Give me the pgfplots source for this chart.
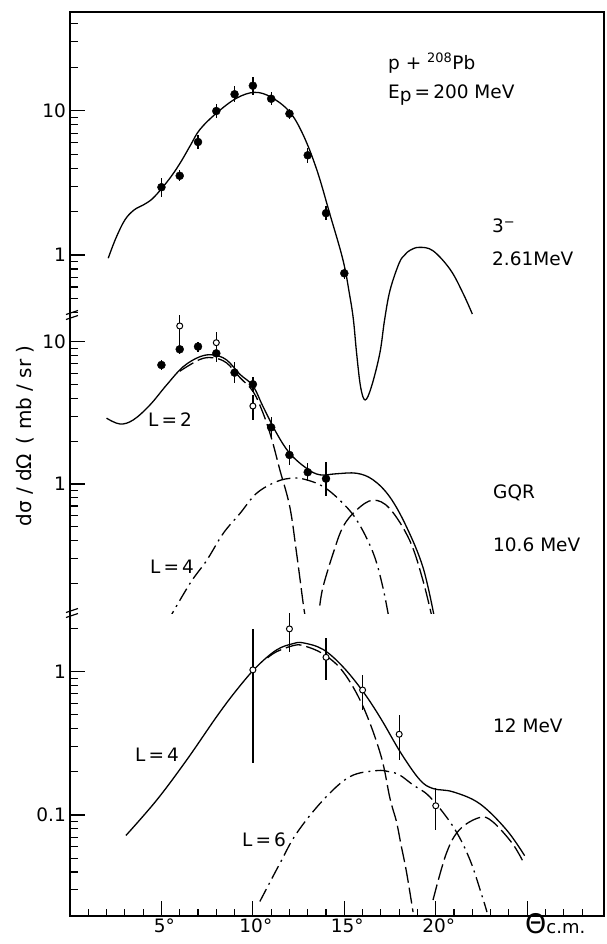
\documentclass[border=0pt]{standalone}
\usepackage{fontspec}
\setmainfont{DejaVu Sans}
\usepackage{pgfplots}
\pgfplotsset{compat=1.18}

\pgfplotsset{
  panel/.style={
    scale only axis, width=534pt,
    xmin=0, xmax=29.2,
    axis y line*=left,
    tick align=inside,
    major tick length=15pt, minor tick length=7.5pt,
    tick style={black, line width=1.1pt},
    axis line style={line width=1.3pt},
    yticklabel style={anchor=east, inner sep=0pt, xshift=-4pt, font=\fontsize{18.5}{22}\selectfont},
    xticklabel style={anchor=north, inner sep=0pt, yshift=-3pt, xshift=3pt, font=\fontsize{18.5}{22}\selectfont},
  },
  fit/.style={black, line width=1.3pt, smooth, tension=0.6, no markers},
  ldash/.style={fit, dash pattern=on 16pt off 5pt},
  ddot/.style={fit, dash pattern=on 14pt off 5pt on 2pt off 5pt},
  filled/.style={only marks, mark=*, mark size=4pt, black,
    error bars/.cd, y dir=both, y explicit,
    error bar style={line width=1.3pt}, error mark=none},
  open/.style={only marks, mark=*, mark size=3pt,
    mark options={fill=white, draw=black, line width=1pt}, black,
    error bars/.cd, y dir=both, y explicit,
    error bar style={line width=1.3pt}, error mark=none},
}

\begin{document}
\fontsize{18.5}{22}\selectfont
\begin{tikzpicture}
\path[use as bounding box] (-70pt,12pt) rectangle (537pt,-932pt);

% 3- state, 2.61 MeV
\begin{axis}[ymode=log, panel, at={(0pt,0pt)}, anchor=north west, height=303pt,
  ymin=0.384, ymax=48.3, ytick={1,10}, yticklabels={1,10},
  minor ytick={0.4,0.5,0.6,0.7,0.8,0.9,2,3,4,5,6,7,8,9,20,30,40},
  axis x line=none, xtick=\empty, clip=false]
\addplot[fit] coordinates {
(2.09,0.95) (2.5,1.3) (3.0,1.75) (3.5,2.05) (4.0,2.22) (4.5,2.45)
(5.07,2.95) (5.6,3.6) (6.1,4.5) (6.6,5.8) (7.1,7.4) (8.0,9.6) (9.1,12.2)
(10.1,13.4) (11.0,12.4) (12.0,9.85) (12.75,6.8) (13.5,3.88) (14.2,1.94)
(14.93,0.92) (15.3,0.52) (15.5,0.354) (15.67,0.21) (15.89,0.122)
(16.14,0.099) (16.48,0.122) (16.94,0.208) (17.2,0.354) (17.5,0.57)
(18.0,0.88) (18.3,1.0) (18.6,1.08) (19.1,1.13) (19.85,1.07) (20.8,0.79)
(21.5,0.54) (22.0,0.39)};
\addplot[filled] coordinates {
(5,2.95) += (0,0.48) -= (0,0.41)
(6,3.54) += (0,0.33) -= (0,0.30)
(7,6.07) += (0,0.77) -= (0,0.68)
(8,9.95) += (0,1.26) -= (0,1.12)
(9,13.0) += (0,1.77) -= (0,1.56)
(10,14.9) += (0,2.3) -= (0,2.0)
(11,12.1) += (0,1.37) -= (0,1.23)
(12,9.53) += (0,0.79) -= (0,0.73)
(13,4.91) += (0,0.64) -= (0,0.57)
(14,1.95) += (0,0.22) -= (0,0.2)
(15,0.747) += (0,0.08) -= (0,0.07)};
\end{axis}

% GQR 10.6 MeV
\begin{axis}[ymode=log, panel, at={(0pt,-303pt)}, anchor=north west, height=298pt,
  ymin=0.124, ymax=15.4, ytick={1,10}, yticklabels={1,10},
  minor ytick={0.2,0.3,0.4,0.5,0.6,0.7,0.8,0.9,2,3,4,5,6,7,8,9},
  axis x line=none, xtick=\empty]
\addplot[fit] coordinates {
(2.0,2.9) (2.73,2.64) (3.46,2.82) (4.37,3.59) (5.28,4.96) (6.19,6.67)
(7.1,7.84) (7.83,8.07) (8.56,7.45) (9.29,5.9) (10.0,4.9) (10.56,3.49)
(11.3,2.27) (12.02,1.64) (12.93,1.29) (13.66,1.16) (14.57,1.18)
(15.67,1.19) (16.57,1.07) (17.49,0.81) (18.4,0.50) (19.3,0.26) (19.9,0.12)};
\addplot[ldash] coordinates {
(6.0,6.2) (7.1,7.5) (7.83,7.7) (8.56,7.1) (9.29,5.6) (10.02,4.45)
(10.56,3.14) (11.02,2.09) (11.48,1.25) (12.02,0.69) (12.39,0.326)
(12.75,0.145) (12.85,0.12)};
\addplot[ddot] coordinates {
(5.28,0.105) (6.56,0.2) (7.47,0.29) (8.38,0.45) (9.29,0.62) (10.2,0.86)
(11.3,1.04) (12.2,1.10) (12.93,1.07) (13.84,0.96) (14.75,0.77)
(15.67,0.56) (16.57,0.33) (17.1,0.19) (17.49,0.105)};
\addplot[ldash] coordinates {
(13.66,0.14) (13.84,0.19) (14.39,0.326) (14.93,0.50) (15.67,0.657)
(16.57,0.77) (17.49,0.67) (18.58,0.40) (19.3,0.21) (19.85,0.108)};
\addplot[filled] coordinates {
(5,6.86) +- (0,0.55)
(6,8.84) +- (0,0.7)
(7,9.24) +- (0,0.75)
(8,8.28) +- (0,0.7)
(9,6.06) += (0,1.1) -= (0,0.9)
(10,5.02) += (0,0.66) -= (0,0.58)
(11,2.5) += (0,0.44) -= (0,0.37)
(12,1.6) += (0,0.28) -= (0,0.24)
(13,1.21) += (0,0.19) -= (0,0.16)
(14,1.09) += (0,0.34) -= (0,0.26)};
\addplot[open] coordinates {
(6,12.9) += (0,3.0) -= (0,3.5)
(8,9.84) += (0,1.9) -= (0,2.6)
(10,3.53) += (0,0.69) -= (0,0.71)};
\end{axis}

% 12 MeV
\begin{axis}[ymode=log, panel, at={(0pt,-601pt)}, anchor=north west, height=303pt,
  ymin=0.01973, ymax=2.568, ytick={0.1,1}, yticklabels={0.1,1},
  minor ytick={0.03,0.04,0.05,0.06,0.07,0.08,0.09,0.2,0.3,0.4,0.5,0.6,0.7,0.8,0.9,2},
  axis x line*=bottom,
  xtick={5,10,15,20,25}, xticklabels={5°,10°,15°,20°,{}},
  minor xtick={1,...,28}]
\addplot[fit] coordinates {
(3.06,0.072) (4.74,0.127) (6.38,0.242) (8.02,0.486) (9.11,0.745)
(10.2,1.08) (11.3,1.42) (12.2,1.57) (12.75,1.59) (13.84,1.43)
(14.93,1.08) (16.03,0.725) (17.0,0.47) (18.1,0.27) (19.13,0.176)
(19.85,0.153) (20.95,0.145) (22.4,0.12) (23.86,0.079) (24.86,0.052)};
\addplot[ldash] coordinates {
(10.8,1.25) (11.3,1.38) (12.2,1.52) (12.75,1.52) (13.84,1.33)
(14.93,1.0) (16.03,0.57) (17.0,0.26) (17.5,0.13) (17.85,0.09)
(18.1,0.062) (18.4,0.04) (18.76,0.021)};
\addplot[ddot] coordinates {
(10.38,0.0249) (11.48,0.046) (12.39,0.0745) (13.84,0.127) (15.3,0.185)
(16.76,0.204) (17.49,0.2) (18.03,0.19) (18.76,0.162) (19.67,0.134)
(20.95,0.083) (21.86,0.049) (22.58,0.026) (22.8,0.021)};
\addplot[ldash] coordinates {
(19.85,0.0255) (20.58,0.054) (21.3,0.079) (22.4,0.096) (23.1,0.090)
(24.2,0.063) (24.86,0.045)};
\addplot[open] coordinates {
(10,1.03) += (0,0.95) -= (0,0.80)
(12,1.99) += (0,0.63) -= (0,0.61)
(14,1.26) += (0,0.45) -= (0,0.38)
(16,0.745) += (0,0.2) -= (0,0.205)
(18,0.366) += (0,0.13) -= (0,0.125)
(20,0.116) += (0,0.039) -= (0,0.037)};
\end{axis}

% frame and axis breaks
\draw[line width=1.3pt] (0pt,0pt) rectangle (534pt,-904pt);
\draw[line width=1.2pt] (-4pt,-307.5pt) -- (8pt,-303.5pt) (-4pt,-302.5pt) -- (8pt,-298.5pt);
\draw[line width=1.2pt] (-4pt,-605.5pt) -- (8pt,-601.5pt) (-4pt,-600.5pt) -- (8pt,-596.5pt);

% labels
\node[anchor=west, inner sep=0pt] at (318pt,-51pt) {p + \textsuperscript{208}Pb};
\node[anchor=west, inner sep=0pt] at (318pt,-83pt) {E\raisebox{-0.25ex}{p}\,=\,200 MeV};
\node[anchor=west, inner sep=0pt] at (422pt,-214pt) {3\textsuperscript{−}};
\node[anchor=west, inner sep=0pt] at (422pt,-247pt) {2.61MeV};
\node[anchor=west, inner sep=0pt] at (423pt,-481pt) {GQR};
\node[anchor=west, inner sep=0pt] at (423pt,-533pt) {10.6 MeV};
\node[anchor=west, inner sep=0pt] at (423pt,-714pt) {12 MeV};
\node[anchor=west, inner sep=0pt] at (78pt,-408pt) {L\,=\,2};
\node[anchor=west, inner sep=0pt] at (80pt,-555pt) {L\,=\,4};
\node[anchor=west, inner sep=0pt] at (65pt,-743pt) {L\,=\,4};
\node[anchor=west, inner sep=0pt] at (172pt,-828pt) {L\,=\,6};
\node[rotate=90, inner sep=0pt] at (-45pt,-424pt)
  {\fontsize{20}{24}\selectfont dσ / dΩ \,( mb / sr )};
\node[anchor=base west, inner sep=0pt] at (455pt,-921pt)
  {{\fontsize{27}{27}\selectfont Θ}{\fontsize{18}{18}\selectfont c.m.}};
\end{tikzpicture}
\end{document}
